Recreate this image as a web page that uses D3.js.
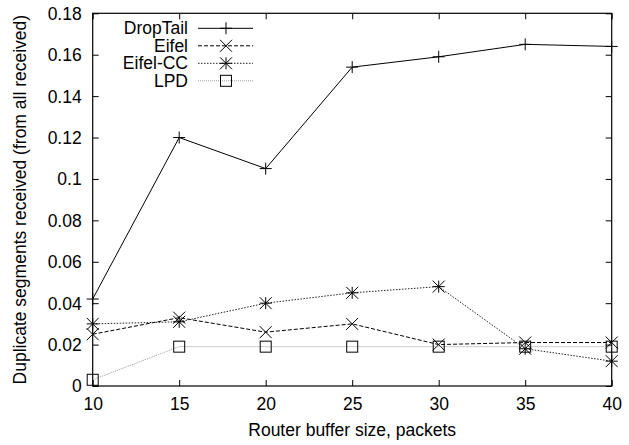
<!DOCTYPE html>
<html>
<head>
<meta charset="utf-8">
<script src="https://cdn.jsdelivr.net/npm/d3@7"></script>
<style>
  html, body { margin: 0; padding: 0; background: #fff; }
  svg { display: block; }
  text { font-family: "Liberation Sans", Arial, Helvetica, sans-serif; }
</style>
</head>
<body>
<svg id="chart" width="629" height="445"></svg>
<script>
// Router buffer sizes (packets)
const bufferSizes = [10, 15, 20, 25, 30, 35, 40];

// Fraction of duplicate segments among all received, per scheme
const dropTail = [0.042, 0.120, 0.105, 0.154, 0.159, 0.165, 0.164];
const eifel    = [0.025, 0.033, 0.026, 0.030, 0.020, 0.021, 0.021];
const eifelCC  = [0.030, 0.031, 0.040, 0.045, 0.048, 0.018, 0.012];
const lpd      = [0.003, 0.019, 0.019, 0.019, 0.019, 0.019, 0.019];

const seriesNames = ["DropTail", "Eifel", "Eifel-CC", "LPD"];

const xTicks = [10, 15, 20, 25, 30, 35, 40];
const yTicks = [0, 0.02, 0.04, 0.06, 0.08, 0.1, 0.12, 0.14, 0.16, 0.18];

const xTitle = "Router buffer size, packets";
const yTitle = "Duplicate segments received (from all received)";

const svg = d3.select("#chart");
const plotL = 92.7, plotR = 611.7, plotT = 13.3, plotB = 386;
const FS = "17.5px";

const x = d3.scaleLinear().domain([10, 40]).range([plotL, plotR]);
const y = d3.scaleLinear().domain([0, 0.18]).range([plotB, plotT]);

// Marker shapes
function plus(g, cx, cy, r) {
  g.append("path").attr("d", `M${cx - r},${cy}H${cx + r}M${cx},${cy - r}V${cy + r}`);
}
function cross(g, cx, cy, r) {
  g.append("path").attr("d", `M${cx - r},${cy - r}L${cx + r},${cy + r}M${cx - r},${cy + r}L${cx + r},${cy - r}`);
}
function star(g, cx, cy, r) { plus(g, cx, cy, r); cross(g, cx, cy, r); }
function square(g, cx, cy, r) {
  g.append("rect").attr("x", cx - r).attr("y", cy - r).attr("width", 2 * r).attr("height", 2 * r).attr("fill", "none");
}

const styles = [
  { values: dropTail, stroke: "#000", dash: null,      marker: plus,   r: 6 },
  { values: eifel,    stroke: "#000", dash: "4,2",     marker: cross,  r: 6 },
  { values: eifelCC,  stroke: "#222", dash: "1.5,1.5", marker: star,   r: 6 },
  { values: lpd,      stroke: "#999", dash: "1,1",     marker: square, r: 5.5 }
];

// Axes with inward ticks on all four sides
const fmt = d => String(d);
const gx = svg.append("g").attr("transform", `translate(0,${plotB})`)
  .call(d3.axisBottom(x).tickValues(xTicks).tickSize(-6).tickSizeOuter(0).tickPadding(11.6).tickFormat(fmt));
const gy = svg.append("g").attr("transform", `translate(${plotL},0)`)
  .call(d3.axisLeft(y).tickValues(yTicks).tickSize(-6).tickSizeOuter(0).tickPadding(11).tickFormat(fmt));
const gt = svg.append("g").attr("transform", `translate(0,${plotT})`)
  .call(d3.axisTop(x).tickValues(xTicks).tickSize(-6).tickSizeOuter(0).tickFormat(""));
const gr = svg.append("g").attr("transform", `translate(${plotR},0)`)
  .call(d3.axisRight(y).tickValues(yTicks).tickSize(-6).tickSizeOuter(0).tickFormat(""));

[gx, gy, gt, gr].forEach(g => {
  g.select(".domain").remove();
  g.selectAll("line").attr("stroke", "#000").attr("stroke-width", 1);
  g.selectAll("text").attr("fill", "#000").style("font-size", FS)
    .style("font-family", '"Liberation Sans", Arial, Helvetica, sans-serif');
});
gy.selectAll("text").attr("dy", "0.34em");

// Frame
svg.append("rect").attr("x", plotL).attr("y", plotT)
  .attr("width", plotR - plotL).attr("height", plotB - plotT)
  .attr("fill", "none").attr("stroke", "#000").attr("stroke-width", 1.2);

// Series
const line = d3.line().x((d, i) => x(bufferSizes[i])).y(d => y(d));
styles.forEach(s => {
  svg.append("path").datum(s.values).attr("d", line)
    .attr("fill", "none").attr("stroke", s.stroke).attr("stroke-width", 1)
    .attr("stroke-dasharray", s.dash);
  const mg = svg.append("g").attr("stroke", "#000").attr("stroke-width", 1).attr("fill", "none");
  s.values.forEach((v, i) => s.marker(mg, x(bufferSizes[i]), y(v), s.r));
});

// Legend
const legendRowY = [28.3, 45.8, 63.3, 80.8];
styles.forEach((s, i) => {
  const ly = legendRowY[i];
  svg.append("text").attr("x", 188).attr("y", ly).attr("dy", "0.35em")
    .attr("text-anchor", "end").style("font-size", FS).text(seriesNames[i]);
  svg.append("line").attr("x1", 198).attr("x2", 253).attr("y1", ly).attr("y2", ly)
    .attr("stroke", s.stroke).attr("stroke-width", 1).attr("stroke-dasharray", s.dash);
  const mg = svg.append("g").attr("stroke", "#000").attr("stroke-width", 1).attr("fill", "none");
  s.marker(mg, 226, ly, s.r);
});

// Axis titles
svg.append("text").attr("x", (plotL + plotR) / 2).attr("y", 436)
  .attr("text-anchor", "middle").style("font-size", FS).text(xTitle);
svg.append("text").attr("transform", `translate(25.5,${(plotT + plotB) / 2}) rotate(-90)`)
  .attr("text-anchor", "middle").style("font-size", FS).text(yTitle);
</script>
</body>
</html>
